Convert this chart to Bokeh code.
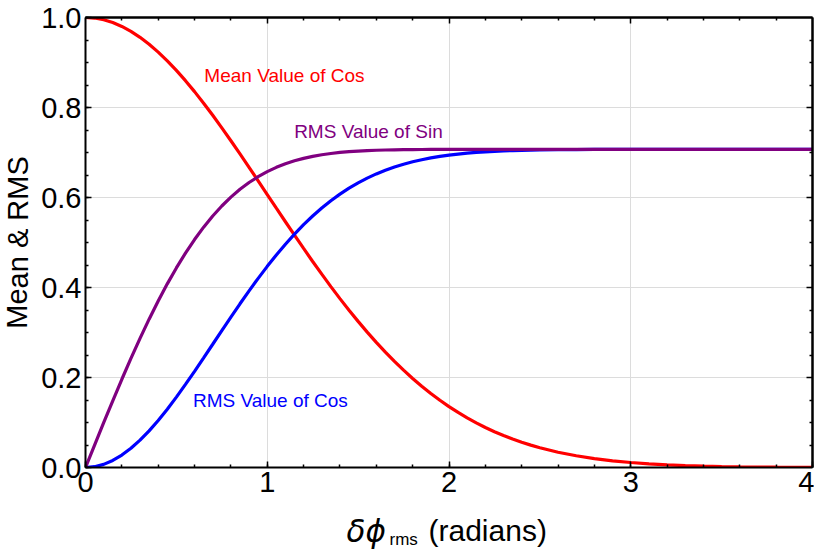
from bokeh.plotting import figure
from bokeh.layouts import column, row
from bokeh.models import (Range1d, LinearAxis, SingleIntervalTicker, FixedTicker,
                          PrintfTickFormatter, Label)
from bokeh.embed import file_html
from bokeh.resources import INLINE

# ---- data ----
x_vals = [0.0, 0.05, 0.1, 0.15, 0.2, 0.25, 0.3, 0.35, 0.4, 0.45,
          0.5, 0.55, 0.6, 0.65, 0.7, 0.75, 0.8, 0.85, 0.9, 0.95,
          1.0, 1.05, 1.1, 1.15, 1.2, 1.25, 1.3, 1.35, 1.4, 1.45,
          1.5, 1.55, 1.6, 1.65, 1.7, 1.75, 1.8, 1.85, 1.9, 1.95,
          2.0, 2.05, 2.1, 2.15, 2.2, 2.25, 2.3, 2.35, 2.4, 2.45, 2.5,
          2.6, 2.7, 2.8, 2.9, 3.0, 3.1, 3.2, 3.3, 3.4, 3.5,
          3.6, 3.7, 3.8, 3.9, 4.0]

mean_cos = [1.0, 0.9988, 0.9950, 0.9888, 0.9802, 0.9692, 0.9560, 0.9406, 0.9231, 0.9037,
            0.8825, 0.8596, 0.8353, 0.8096, 0.7827, 0.7548, 0.7261, 0.6968, 0.6670, 0.6368,
            0.6065, 0.5762, 0.5461, 0.5162, 0.4868, 0.4578, 0.4296, 0.4020, 0.3753, 0.3495,
            0.3247, 0.3008, 0.2780, 0.2563, 0.2357, 0.2163, 0.1979, 0.1807, 0.1645, 0.1494,
            0.1353, 0.1223, 0.1103, 0.0991, 0.0889, 0.0796, 0.0710, 0.0632, 0.0561, 0.0497, 0.0439,
            0.0340, 0.0261, 0.0198, 0.0149, 0.0111, 0.0082, 0.0060, 0.0043, 0.0031, 0.0022,
            0.0015, 0.0011, 0.0007, 0.0005, 0.0003]

rms_sin = [0.0, 0.0499, 0.0995, 0.1483, 0.1961, 0.2424, 0.2870, 0.3296, 0.3701, 0.4081,
           0.4435, 0.4764, 0.5066, 0.5341, 0.5589, 0.5811, 0.6008, 0.6182, 0.6333, 0.6463,
           0.6575, 0.6670, 0.6749, 0.6815, 0.6870, 0.6914, 0.6950, 0.6978, 0.7001, 0.7018,
           0.7032, 0.7042, 0.7050, 0.7056, 0.7060, 0.7063, 0.7066, 0.7067, 0.7069, 0.7069,
           0.7070, 0.7070, 0.7071, 0.7071, 0.7071, 0.7071, 0.7071, 0.7071, 0.7071, 0.7071, 0.7071,
           0.7071, 0.7071, 0.7071, 0.7071, 0.7071, 0.7071, 0.7071, 0.7071, 0.7071, 0.7071,
           0.7071, 0.7071, 0.7071, 0.7071, 0.7071]

rms_cos = [0.0, 0.0018, 0.0070, 0.0157, 0.0277, 0.0428, 0.0609, 0.0815, 0.1046, 0.1296,
           0.1564, 0.1846, 0.2138, 0.2437, 0.2739, 0.3042, 0.3343, 0.3638, 0.3925, 0.4203,
           0.4470, 0.4723, 0.4962, 0.5187, 0.5396, 0.5589, 0.5766, 0.5928, 0.6075, 0.6208,
           0.6326, 0.6431, 0.6524, 0.6606, 0.6678, 0.6740, 0.6794, 0.6840, 0.6880, 0.6913,
           0.6942, 0.6965, 0.6985, 0.7002, 0.7015, 0.7026, 0.7036, 0.7043, 0.7049, 0.7054, 0.7057,
           0.7063, 0.7066, 0.7068, 0.7069, 0.7070, 0.7071, 0.7071, 0.7071, 0.7071, 0.7071,
           0.7071, 0.7071, 0.7071, 0.7071, 0.7071]

series_labels = ["Mean Value of Cos", "RMS Value of Sin", "RMS Value of Cos"]
y_label = "Mean & RMS"

FONT = "Liberation Sans"
W_YLAB = 38
W = 814
H_MAIN = 506
H_XLAB = 43

p = figure(width=W - W_YLAB, height=H_MAIN, x_range=Range1d(0, 4), y_range=Range1d(0, 1),
           output_backend="svg", toolbar_location=None,
           min_border_left=84 - W_YLAB, min_border_right=2, min_border_top=17, min_border_bottom=39)
p.outline_line_color = None
p.background_fill_color = "white"
p.border_fill_color = "white"

xax = p.xaxis[0]
yax = p.yaxis[0]
xax.ticker = SingleIntervalTicker(interval=1, num_minor_ticks=5)
yax.ticker = SingleIntervalTicker(interval=0.2, num_minor_ticks=4)
yax.formatter = PrintfTickFormatter(format="%.1f")

# mirrored frame ticks (no labels) on top and right
top_minor = LinearAxis(ticker=FixedTicker(ticks=[], minor_ticks=[0.2, 0.4, 0.6, 0.8, 1.2, 1.4, 1.6, 1.8,
                                                                  2.2, 2.4, 2.6, 2.8, 3.2, 3.4, 3.6, 3.8]))
top_major = LinearAxis(ticker=FixedTicker(ticks=[], minor_ticks=[1, 2, 3]))
right_minor = LinearAxis(ticker=FixedTicker(ticks=[], minor_ticks=[0.05, 0.1, 0.15, 0.25, 0.3, 0.35,
                                                                    0.45, 0.5, 0.55, 0.65, 0.7, 0.75,
                                                                    0.85, 0.9, 0.95]))
right_major = LinearAxis(ticker=FixedTicker(ticks=[], minor_ticks=[0.2, 0.4, 0.6, 0.8]))
for ax, side in [(top_minor, "above"), (top_major, "above"), (right_minor, "right"), (right_major, "right")]:
    p.add_layout(ax, side)

for ax in [xax, yax, top_minor, top_major, right_minor, right_major]:
    ax.axis_line_color = "black"
    ax.axis_line_width = 2
    ax.major_tick_in = 6
    ax.major_tick_out = 0
    ax.minor_tick_in = 3
    ax.minor_tick_out = 0
    ax.major_tick_line_color = "black"
    ax.minor_tick_line_color = "black"
    ax.major_tick_line_width = 1.5
    ax.minor_tick_line_width = 1.5
    ax.major_label_text_font = FONT
    ax.major_label_text_color = "black"
    ax.major_label_text_font_size = "29px"
    ax.major_label_standoff = 4
top_major.minor_tick_in = 6
right_major.minor_tick_in = 6

p.xgrid.ticker = SingleIntervalTicker(interval=1)
p.ygrid.ticker = SingleIntervalTicker(interval=0.2)
p.grid.grid_line_color = "#dcdcdc"
p.grid.grid_line_width = 1

p.line(x_vals, mean_cos, line_color="#ff0000", line_width=3.2)
p.line(x_vals, rms_cos, line_color="#0000ff", line_width=3.2)
p.line(x_vals, rms_sin, line_color="#800080", line_width=3.2)

for txt, lx, ly, col in [(series_labels[0], 0.654, 0.872, "#ff0000"),
                         (series_labels[1], 1.148, 0.747, "#800080"),
                         (series_labels[2], 0.591, 0.150, "#0000ff")]:
    p.add_layout(Label(x=lx, y=ly, text=txt, text_color=col, text_font=FONT,
                       text_font_size="19px", text_align="left", text_baseline="alphabetic"))


def strip(w, h):
    f = figure(width=w, height=h, x_range=Range1d(0, w), y_range=Range1d(0, h),
               output_backend="svg", toolbar_location=None,
               x_axis_location=None, y_axis_location=None,
               min_border_left=0, min_border_right=0, min_border_top=0, min_border_bottom=0)
    f.outline_line_color = None
    f.grid.visible = False
    f.background_fill_color = "white"
    f.border_fill_color = "white"
    return f


# y-axis label strip
qy = strip(W_YLAB, H_MAIN)
qy.add_layout(Label(x=17, y=253, text=y_label, angle=1.5707963, text_font=FONT,
                    text_font_size="29px", text_align="center", text_baseline="alphabetic",
                    text_color="black"))

# x-axis label strip
q = strip(W, H_XLAB)
q.add_layout(Label(x=346, y=19, text="δϕ", text_font="DejaVu Sans", text_font_style="italic",
                   text_font_size="31px", text_align="left", text_baseline="alphabetic",
                   text_color="black"))
q.add_layout(Label(x=389, y=10, text="rms", text_font=FONT, text_font_size="17px",
                   text_align="left", text_baseline="alphabetic", text_color="black"))
q.add_layout(Label(x=428, y=19, text="(radians)", text_font=FONT, text_font_size="30px",
                   text_align="left", text_baseline="alphabetic", text_color="black"))

layout = column(row(qy, p, spacing=0), q, spacing=0)
open("out.html", "w").write(file_html(layout, INLINE))
